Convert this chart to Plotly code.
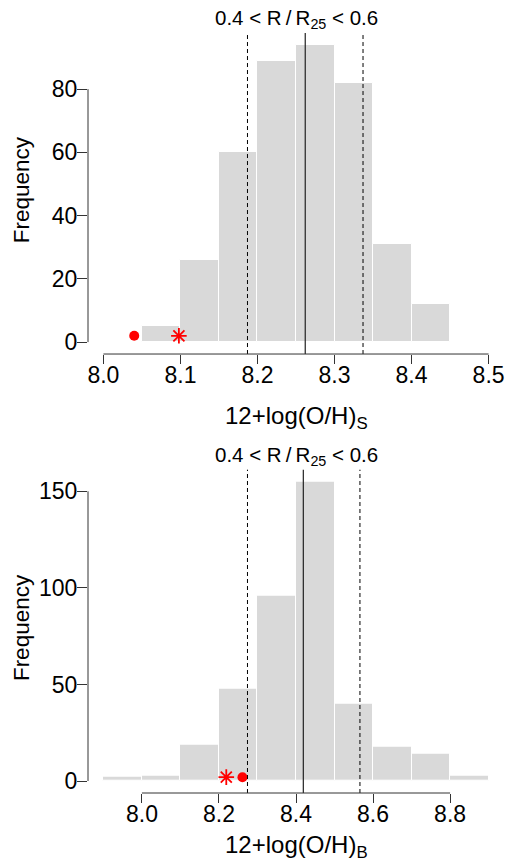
import plotly.graph_objects as go

# ---- data ----
top_bin_left = [8.05, 8.10, 8.15, 8.20, 8.25, 8.30, 8.35, 8.40]
top_counts = [5, 26, 60, 89, 94, 82, 31, 12]
top_binwidth = 0.05
top_vlines_dashed = [8.187, 8.337]
top_vline_solid = [8.262]
top_circle = (8.04, 2)
top_star = (8.098, 2)
top_xticks = [8.0, 8.1, 8.2, 8.3, 8.4, 8.5]
top_xticklabels = ["8.0", "8.1", "8.2", "8.3", "8.4", "8.5"]
top_yticks = [0, 20, 40, 60, 80]

bot_bin_left = [7.9, 8.0, 8.1, 8.2, 8.3, 8.4, 8.5, 8.6, 8.7, 8.8]
bot_counts = [2, 3, 19, 48, 96, 155, 40, 18, 14, 3]
bot_binwidth = 0.1
bot_vlines_dashed = [8.274, 8.566]
bot_vline_solid = [8.419]
bot_circle = (8.261, 2)
bot_star = (8.219, 2)
bot_xticks = [8.0, 8.2, 8.4, 8.6, 8.8]
bot_xticklabels = ["8.0", "8.2", "8.4", "8.6", "8.8"]
bot_yticks = [0, 50, 100, 150]

title_text = "0.4 &lt; R&#8201;/&#8201;R<sub>25</sub> &lt; 0.6"
xlab_top = "12+log(O/H)<sub>S</sub>"
xlab_bot = "12+log(O/H)<sub>B</sub>"
ylab = "Frequency"

FONT = "Liberation Sans, Arial, Helvetica, sans-serif"
BARCOL = "#d9d9d9"

fig = go.Figure()

def add_panel(xa, ya, lefts, counts, bw, dashed, solid, circ, star):
    xs = [l + bw / 2 for l in lefts]
    fig.add_trace(go.Bar(x=xs, y=counts, width=bw, xaxis=xa, yaxis=ya,
                         marker=dict(color=BARCOL, line=dict(color="white", width=1)),
                         showlegend=False, hoverinfo="skip"))
    fig.add_trace(go.Scatter(x=[circ[0]], y=[circ[1]], mode="markers", xaxis=xa, yaxis=ya,
                             marker=dict(symbol="circle", size=10, color="red"),
                             showlegend=False))
    fig.add_trace(go.Scatter(x=[star[0]], y=[star[1]], mode="markers", xaxis=xa, yaxis=ya,
                             marker=dict(symbol="asterisk-open", size=13, color="red",
                                         line=dict(color="red", width=1.8)),
                             showlegend=False))
    yr_dom = ya + " domain"
    for v in dashed:
        fig.add_shape(type="line", xref=xa, yref=yr_dom, x0=v, x1=v, y0=0, y1=1,
                      line=dict(color="black", width=1, dash="4px,3px"))
    for v in solid:
        fig.add_shape(type="line", xref=xa, yref=yr_dom, x0=v, x1=v, y0=0, y1=1,
                      line=dict(color="#222222", width=1.2))

add_panel("x", "y", top_bin_left, top_counts, top_binwidth,
          top_vlines_dashed, top_vline_solid, top_circle, top_star)
add_panel("x2", "y2", bot_bin_left, bot_counts, bot_binwidth,
          bot_vlines_dashed, bot_vline_solid, bot_circle, bot_star)

# detached axis lines (R style)
AXC = "#333333"
fig.add_shape(type="line", xref="x domain", yref="y", x0=0, x1=0,
              y0=top_yticks[0], y1=top_yticks[-1], line=dict(color=AXC, width=1))
fig.add_shape(type="line", xref="x", yref="y domain", x0=top_xticks[0], x1=top_xticks[-1],
              y0=0, y1=0, line=dict(color=AXC, width=1))
fig.add_shape(type="line", xref="x2 domain", yref="y2", x0=0, x1=0,
              y0=bot_yticks[0], y1=bot_yticks[-1], line=dict(color=AXC, width=1))
fig.add_shape(type="line", xref="x2", yref="y2 domain", x0=bot_xticks[0], x1=bot_xticks[-1],
              y0=0, y1=0, line=dict(color=AXC, width=1))

tickfont = dict(family=FONT, size=23, color="black")
common_x = dict(showgrid=False, zeroline=False, showline=False, ticks="outside",
                ticklen=9, tickcolor=AXC, tickwidth=1, tickfont=tickfont, fixedrange=True,
                ticklabelstandoff=-9)
common_y = dict(showgrid=False, zeroline=False, showline=False, ticks="outside",
                ticklen=10, tickcolor=AXC, tickwidth=1, tickfont=tickfont, fixedrange=True,
                ticklabelstandoff=-5)

fig.update_layout(
    width=509, height=865,
    margin=dict(l=88, r=5, t=33, b=72),
    plot_bgcolor="white", paper_bgcolor="white",
    bargap=0,
    xaxis=dict(domain=[0, 1], range=[7.98, 8.52], anchor="y",
               tickvals=top_xticks, ticktext=top_xticklabels, **common_x),
    yaxis=dict(domain=[0.5776, 1], range=[-3.76, 97.76], anchor="x",
               tickvals=top_yticks, **common_y),
    xaxis2=dict(domain=[0, 1], range=[7.86, 8.94], anchor="y2",
                tickvals=bot_xticks, ticktext=bot_xticklabels, **common_x),
    yaxis2=dict(domain=[0, 0.4254], range=[-6.2, 161.2], anchor="x2",
                tickvals=bot_yticks, **common_y),
)

ann_font = dict(family=FONT, size=24, color="black")
ylab_font = dict(family=FONT, size=22.5, color="black")
title_font = dict(family=FONT, size=20.5, color="black")
anns = [
    dict(text=title_text, xref="x domain", yref="paper", x=0.5, y=1.018,
         xanchor="center", yanchor="middle", showarrow=False, font=title_font),
    dict(text=title_text, xref="x2 domain", yref="paper", x=0.5, y=0.4434,
         xanchor="center", yanchor="middle", showarrow=False, font=title_font),
    dict(text=xlab_top, xref="x domain", yref="paper", x=0.5, y=0.4947,
         xanchor="center", yanchor="middle", showarrow=False, font=ann_font),
    dict(text=xlab_bot, xref="x2 domain", yref="paper", x=0.5, y=-0.0710,
         xanchor="center", yanchor="middle", showarrow=False, font=ann_font),
    dict(text=ylab, xref="paper", yref="y domain", x=-67 / 416, y=0.51, textangle=-90,
         xanchor="center", yanchor="middle", showarrow=False, font=ylab_font),
    dict(text=ylab, xref="paper", yref="y2 domain", x=-67 / 416, y=0.51, textangle=-90,
         xanchor="center", yanchor="middle", showarrow=False, font=ylab_font),
]
fig.update_layout(annotations=anns)

fig.write_html("out.html")
